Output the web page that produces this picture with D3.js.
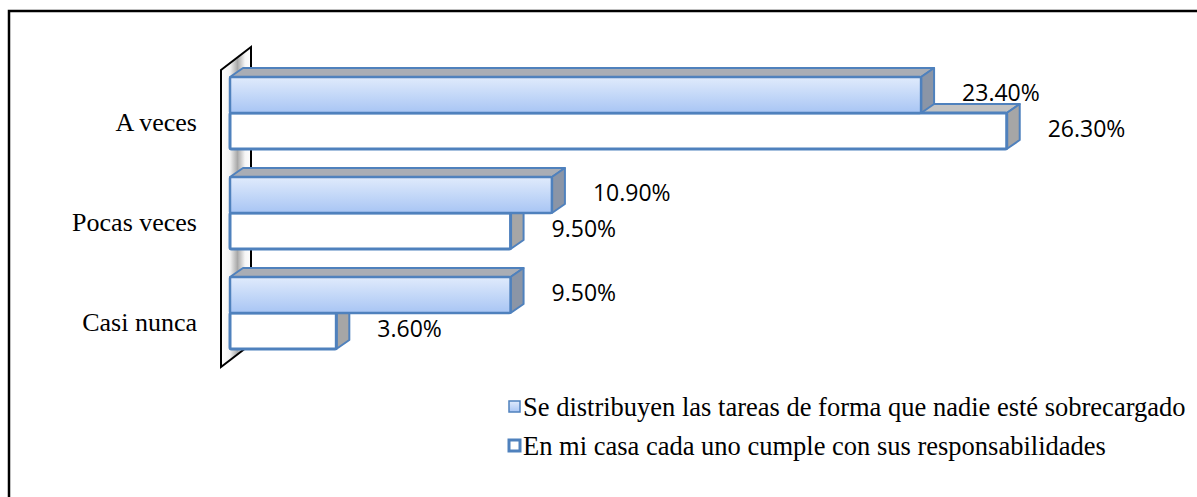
<!DOCTYPE html>
<html>
<head>
<meta charset="utf-8">
<script src="https://cdn.jsdelivr.net/npm/d3@7"></script>
<style>
  body { margin: 0; background: #fff; }
  svg { display: block; }
</style>
</head>
<body>
<script>
// Chart data
var categories = ["A veces", "Pocas veces", "Casi nunca"];
var seriesNames = [
  "Se distribuyen las tareas de forma que nadie esté sobrecargado",
  "En mi casa cada uno cumple con sus responsabilidades"
];
var tareasValues = [23.4, 10.9, 9.5];
var cumpleValues = [26.3, 9.5, 3.6];

var svgWidth = 1197;
var svgHeight = 497;

var svg = d3.select("body")
  .append("svg")
  .attr("width", svgWidth)
  .attr("height", svgHeight);

var defs = svg.append("defs");

var blueGrad = defs.append("linearGradient")
  .attr("id", "blueGrad")
  .attr("x1", 0).attr("y1", 0).attr("x2", 0).attr("y2", 1);
blueGrad.append("stop").attr("offset", "0%").attr("stop-color", "#e0ebfc");
blueGrad.append("stop").attr("offset", "100%").attr("stop-color", "#a8c5f4");

var wallGrad = defs.append("linearGradient")
  .attr("id", "wallGrad")
  .attr("x1", 0).attr("y1", 0).attr("x2", 1).attr("y2", 0);
wallGrad.append("stop").attr("offset", "0%").attr("stop-color", "#ffffff");
wallGrad.append("stop").attr("offset", "30%").attr("stop-color", "#f2f2f2");
wallGrad.append("stop").attr("offset", "55%").attr("stop-color", "#a8a8a8");
wallGrad.append("stop").attr("offset", "80%").attr("stop-color", "#f6f6f6");
wallGrad.append("stop").attr("offset", "100%").attr("stop-color", "#ffffff");

// outer frame (top and left edges visible in the picture)
svg.append("path")
  .attr("d", "M9,500 L9,11 L1200,11")
  .attr("fill", "none")
  .attr("stroke", "#000")
  .attr("stroke-width", 2.5);

// scales
var x = d3.scaleLinear()
  .domain([0, 30])
  .range([230, 1116]);

var y = d3.scaleBand()
  .domain(categories)
  .range([63, 363])
  .paddingInner(0.28)
  .paddingOuter(0.14);

var ySeries = d3.scaleBand()
  .domain([0, 1])
  .range([0, y.bandwidth()]);

// depth of the bars and of the wall
var dx = 13, dy = 9;
var wdx = 30, wdy = 23;

// back wall
var wallX = 221, wallTop = 70, wallBottom = 367;
svg.append("path")
  .attr("d", `M${wallX},${wallTop} L${wallX + wdx},${wallTop - wdy} L${wallX + wdx},${wallBottom - wdy} L${wallX},${wallBottom} Z`)
  .attr("fill", "url(#wallGrad)")
  .attr("stroke", "#000")
  .attr("stroke-width", 2);

// build bar records: draw the lower (white) bar first so the blue one sits on top
var bars = [];
categories.forEach(function(c, i) {
  bars.push({ cat: c, s: 1, v: cumpleValues[i] });
  bars.push({ cat: c, s: 0, v: tareasValues[i] });
});

var styles = [
  { front: "url(#blueGrad)", top: "#a9adb5", side: "#8b95a6", sw: 2.5 },
  { front: "#ffffff", top: "#c3c3c3", side: "#a6a6a6", sw: 3 }
];

var barG = svg.selectAll(".bar")
  .data(bars)
  .enter()
  .append("g")
  .attr("class", "bar");

function topFace(d) {
  var x0 = x(0), x1 = x(d.v), y0 = y(d.cat) + ySeries(d.s);
  return `M${x0},${y0} L${x0 + dx},${y0 - dy} L${x1 + dx},${y0 - dy} L${x1},${y0} Z`;
}
function sideFace(d) {
  var x1 = x(d.v), y0 = y(d.cat) + ySeries(d.s), h = ySeries.bandwidth();
  return `M${x1},${y0} L${x1 + dx},${y0 - dy} L${x1 + dx},${y0 + h - dy} L${x1},${y0 + h} Z`;
}

barG.append("path")
  .attr("d", topFace)
  .attr("fill", d => styles[d.s].top)
  .attr("stroke", "#4f81bd")
  .attr("stroke-width", 2)
  .attr("stroke-linejoin", "round");

barG.append("path")
  .attr("d", sideFace)
  .attr("fill", d => styles[d.s].side)
  .attr("stroke", "#4f81bd")
  .attr("stroke-width", 2)
  .attr("stroke-linejoin", "round");

barG.append("rect")
  .attr("x", x(0))
  .attr("y", d => y(d.cat) + ySeries(d.s))
  .attr("width", d => x(d.v) - x(0))
  .attr("height", ySeries.bandwidth())
  .attr("fill", d => styles[d.s].front)
  .attr("stroke", "#4f81bd")
  .attr("stroke-width", d => styles[d.s].sw)
  .attr("rx", 1.5);

// value labels
svg.selectAll(".val")
  .data(bars)
  .enter()
  .append("text")
  .attr("class", "val")
  .attr("x", d => x(d.v) + dx + 28)
  .attr("y", d => y(d.cat) + ySeries(d.s) + ySeries.bandwidth() / 2)
  .attr("dominant-baseline", "middle")
  .attr("font-family", "'Open Sans', sans-serif")
  .attr("font-size", 23)
  .attr("fill", "#000")
  .text(d => d.v.toFixed(2) + "%");

// category labels
svg.selectAll(".cat")
  .data(categories)
  .enter()
  .append("text")
  .attr("class", "cat")
  .attr("x", 197)
  .attr("y", d => y(d) + y.bandwidth() / 2 + 18)
  .attr("text-anchor", "end")
  .attr("font-family", "'Liberation Serif', 'Times New Roman', serif")
  .attr("font-size", 26)
  .attr("fill", "#000")
  .text(d => d);

// legend
var legend = svg.selectAll(".legend")
  .data(seriesNames)
  .enter()
  .append("g")
  .attr("class", "legend")
  .attr("transform", (d, i) => `translate(508, ${401 + i * 39})`);

legend.append("rect")
  .attr("x", 1)
  .attr("y", 0)
  .attr("width", 11)
  .attr("height", 11)
  .attr("fill", (d, i) => i === 0 ? "url(#blueGrad)" : "#ffffff")
  .attr("stroke", "#4f81bd")
  .attr("stroke-width", (d, i) => i === 0 ? 1.5 : 3);

legend.append("text")
  .attr("x", 15)
  .attr("y", 15)
  .attr("font-family", "'Liberation Serif', 'Times New Roman', serif")
  .attr("font-size", 26.5)
  .attr("fill", "#000")
  .text(d => d);
</script>
</body>
</html>
